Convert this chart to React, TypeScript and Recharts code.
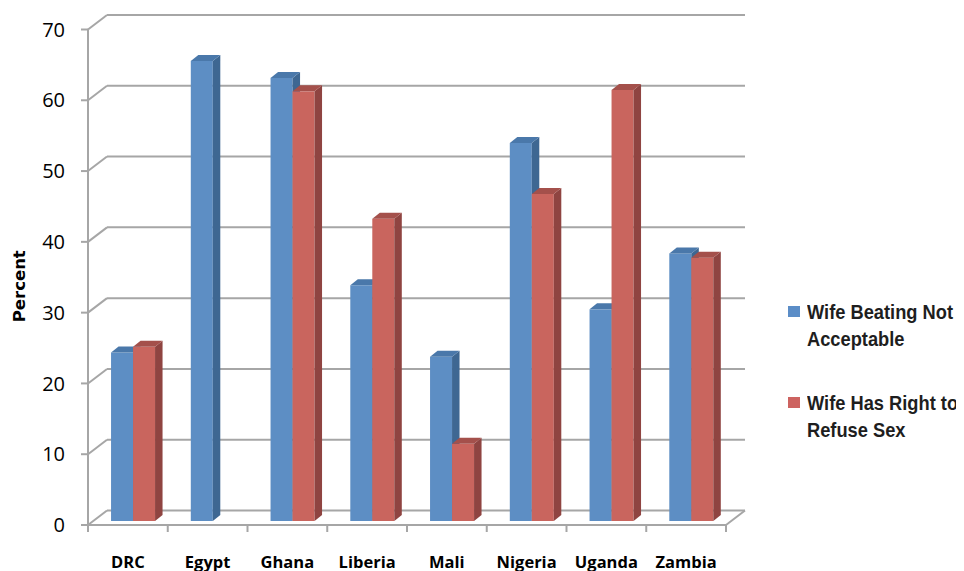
import { BarChart, Bar, XAxis, YAxis, CartesianGrid, Legend } from 'recharts'

const countries = ['DRC', 'Egypt', 'Ghana', 'Liberia', 'Mali', 'Nigeria', 'Uganda', 'Zambia']
const beatingNotAcceptable = [23.8, 65.0, 62.6, 33.3, 23.2, 53.4, 29.9, 37.8]
const rightToRefuseSex = [24.6, null, 60.7, 42.7, 10.9, 46.2, 60.9, 37.2]
const yTicks = [0, 10, 20, 30, 40, 50, 60, 70]

const data = countries.map((country, i) => ({
    country,
    beating: beatingNotAcceptable[i],
    refuse: rightToRefuseSex[i],
}))

const W = 948
const H = 563
const PLOT_LEFT = 80
const PLOT_RIGHT = 718
const PLOT_TOP = 21.5
const PLOT_BOTTOM = 517
const BAND = (PLOT_RIGHT - PLOT_LEFT) / countries.length

// depth of the back wall and of the bars
const WALL_DX = 19
const WALL_DY = 14.5
const BAR_SHIFT_X = 5.5
const BAR_SHIFT_Y = -4
const BAR_DX = 7.5
const BAR_DY = 6

const GRID = '#a6a6a6'

const BLUE = { front: '#5d8ec4', side: '#3e6792', top: '#4a78aa' }
const RED = { front: '#c9655e', side: '#8f4441', top: '#a4504b' }

type Tone = { front: string; side: string; top: string }

const Bar3D = (props: any) => {
    const { x, y, width, height, tone } = props
    if (height == null || height <= 0) return null
    const l = x + BAR_SHIFT_X
    const t = y + BAR_SHIFT_Y
    const r = l + width
    const b = t + height
    return (
        <g>
            <rect x={l} y={t} width={width} height={height} fill={tone.front} />
            <polygon
                points={`${r},${t} ${r + BAR_DX},${t - BAR_DY} ${r + BAR_DX},${b - BAR_DY} ${r},${b}`}
                fill={tone.side}
            />
            <polygon
                points={`${l},${t} ${l + BAR_DX},${t - BAR_DY} ${r + BAR_DX},${t - BAR_DY} ${r},${t}`}
                fill={tone.top}
            />
        </g>
    )
}

const GridLine = (p: any) => {
    const { x1, y1, x2 } = p
    const floor = y1 >= PLOT_BOTTOM - 0.5
    return (
        <g key={`grid-${p.index}`} stroke={GRID} strokeWidth={2} fill="none">
            <line x1={x1} y1={y1} x2={x1 + WALL_DX} y2={y1 - WALL_DY} />
            <line x1={x1 + WALL_DX} y1={y1 - WALL_DY} x2={x2 + WALL_DX} y2={y1 - WALL_DY} />
            {floor && <line x1={x2} y1={y1} x2={x2 + WALL_DX} y2={y1 - WALL_DY} />}
        </g>
    )
}

const CategoryTick = (props: any) => {
    const { x, y, payload, index } = props
    return (
        <g>
            {index === 0 && (
                <line x1={x - BAND / 2} y1={y} x2={x - BAND / 2} y2={y + 7} stroke={GRID} strokeWidth={2} />
            )}
            <line x1={x + BAND / 2} y1={y} x2={x + BAND / 2} y2={y + 7} stroke={GRID} strokeWidth={2} />
            <text
                x={x}
                y={y + 36}
                textAnchor="middle"
                dominantBaseline="central"
                fontFamily="'Open Sans', sans-serif"
                fontWeight={700}
                fontSize={16.5}
                fill="#000"
            >
                {payload.value}
            </text>
        </g>
    )
}

const PercentLabel = (props: any) => {
    const { viewBox } = props
    const cx = viewBox.x + 11
    const cy = viewBox.y + viewBox.height / 2 + 9
    return (
        <text
            x={cx}
            y={cy}
            transform={`rotate(-90, ${cx}, ${cy})`}
            textAnchor="middle"
            dominantBaseline="central"
            fontFamily="'DejaVu Sans', sans-serif"
            fontWeight={700}
            fontSize={16.5}
            fill="#000"
        >
            Percent
        </text>
    )
}

// narrow bold legend text: Liberation Sans squeezed horizontally
const LegendBox = (props: any) => {
    const { payload } = props
    return (
        <div style={{ fontFamily: "'Liberation Sans', Arial, sans-serif", fontWeight: 700 }}>
            {payload.map((entry: any, i: number) => (
                <div key={entry.value} style={{ display: 'flex', marginBottom: i === 0 ? 37 : 0 }}>
                    <span
                        style={{
                            width: 12,
                            height: 11,
                            marginTop: 7.5,
                            marginRight: 7,
                            flex: 'none',
                            background: entry.color,
                        }}
                    />
                    <span
                        style={{
                            width: 178,
                            flex: 'none',
                            fontSize: 21,
                            lineHeight: '27px',
                            color: '#1e1e1e',
                            transform: 'scaleX(0.87)',
                            transformOrigin: 'left center',
                        }}
                    >
                        {entry.value}
                    </span>
                </div>
            ))}
        </div>
    )
}

export default function App() {
    return (
        <BarChart
            width={W}
            height={H}
            data={data}
            margin={{ top: PLOT_TOP, right: W - PLOT_RIGHT, bottom: 0, left: 0 }}
            barCategoryGap="22%"
            barGap={0}
        >
            <CartesianGrid vertical={false} horizontal={GridLine} />
            <XAxis
                dataKey="country"
                height={H - PLOT_BOTTOM}
                axisLine={{ stroke: GRID, strokeWidth: 2 }}
                tickLine={false}
                tickSize={0}
                tickMargin={0}
                interval={0}
                tick={CategoryTick}
            />
            <YAxis
                width={PLOT_LEFT}
                domain={[0, 70]}
                ticks={yTicks}
                interval={0}
                axisLine={{ stroke: GRID, strokeWidth: 2 }}
                tickLine={{ stroke: GRID, strokeWidth: 2 }}
                tickSize={7}
                tickMargin={16}
                tick={{ fill: '#000', fontSize: 20, fontFamily: "'Open Sans', sans-serif" }}
                label={<PercentLabel />}
            />
            <Legend
                layout="horizontal"
                verticalAlign="middle"
                wrapperStyle={{ left: 780, top: 290, width: 168, overflow: 'visible' }}
                content={LegendBox}
            />
            <Bar
                dataKey="beating"
                name="Wife Beating Not Acceptable"
                fill="#5b8dc7"
                isAnimationActive={false}
                shape={(p: any) => <Bar3D {...p} tone={BLUE as Tone} />}
            />
            <Bar
                dataKey="refuse"
                name="Wife Has Right to Refuse Sex"
                fill="#cd6360"
                isAnimationActive={false}
                shape={(p: any) => <Bar3D {...p} tone={RED as Tone} />}
            />
        </BarChart>
    )
}
